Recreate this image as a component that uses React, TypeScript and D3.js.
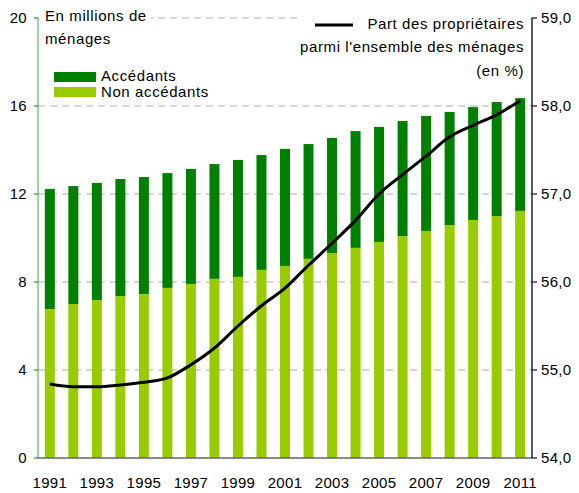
import React from "react";
import * as d3 from "d3";

const years = d3.range(1991, 2012).map(String);
const nonAccedants = [6.77, 7.0, 7.18, 7.36, 7.45, 7.73, 7.91, 8.14, 8.23, 8.55, 8.73, 9.05, 9.32, 9.55, 9.82, 10.09, 10.32, 10.59, 10.82, 11.0, 11.23];
const totalMenages = [12.23, 12.36, 12.5, 12.68, 12.77, 12.95, 13.14, 13.36, 13.55, 13.77, 14.05, 14.27, 14.55, 14.86, 15.05, 15.32, 15.55, 15.73, 15.95, 16.18, 16.36];
const partProprietaires = [54.84, 54.81, 54.81, 54.83, 54.86, 54.91, 55.06, 55.25, 55.5, 55.73, 55.93, 56.19, 56.44, 56.7, 57.0, 57.22, 57.43, 57.65, 57.78, 57.9, 58.06];
const leftTicks = [0, 4, 8, 12, 16, 20];
const rightTicks = [54, 55, 56, 57, 58, 59];
const xLabels = ["1991", "1993", "1995", "1997", "1999", "2001", "2003", "2005", "2007", "2009", "2011"];

const W = 579, H = 493;
const L = 38, R = 532, T = 18, B = 458;
const DARK = "#008000", LIGHT = "#99cc00";
const FONT = "'Liberation Sans', Arial, sans-serif";
const LS = 0.6;

export default function App() {
  const x = d3.scaleBand<string>().domain(years).range([L, R]).paddingInner(0.575).paddingOuter(0.29);
  const y = d3.scaleLinear().domain([0, 20]).range([B, T]);
  const y2 = d3.scaleLinear().domain([54, 59]).range([B, T]);
  const cx = (yr: string) => (x(yr) as number) + x.bandwidth() / 2;
  const line = d3.line<number>().x((_, i) => cx(years[i])).y((d) => y2(d)).curve(d3.curveMonotoneX);

  return (
    <svg width={W} height={H} style={{ position: "absolute", left: 0, top: 0, background: "#fff" }} fontFamily={FONT}>
      {leftTicks.filter((t) => t > 0).map((t) => (
        <line key={t} x1={L} x2={R} y1={y(t)} y2={y(t)} stroke="#c8c8c8" strokeWidth={1.3} strokeDasharray="7,5" />
      ))}
      {/* white backgrounds behind titles */}
      <rect x={L + 1} y={6} width={112} height={44} fill="#fff" />
      <rect x={302} y={6} width={228} height={76} fill="#fff" />
      {years.map((yr, i) => (
        <g key={yr}>
          <rect x={x(yr)} y={y(totalMenages[i])} width={x.bandwidth()} height={y(nonAccedants[i]) - y(totalMenages[i])} fill={DARK} />
          <rect x={x(yr)} y={y(nonAccedants[i])} width={x.bandwidth()} height={B - y(nonAccedants[i])} fill={LIGHT} />
        </g>
      ))}
      <path d={line(partProprietaires) || ""} fill="none" stroke="#000" strokeWidth={3} />
      {/* left axis */}
      <line x1={L} x2={L} y1={T} y2={B} stroke="#6abf6a" strokeWidth={1.3} />
      {leftTicks.map((t) => (
        <g key={t}>
          <line x1={L - 4} x2={L} y1={y(t)} y2={y(t)} stroke="#3a9a3a" strokeWidth={1.3} />
          <text x={27} y={y(t)} dy="0.36em" textAnchor="end" fontSize={15} fill="#000" letterSpacing={0.3}>{t}</text>
        </g>
      ))}
      {/* bottom axis */}
      <line x1={L} x2={R} y1={B} y2={B} stroke="#666" strokeWidth={1.3} />
      {xLabels.map((yr) => (
        <text key={yr} x={cx(yr)} y={488} textAnchor="middle" fontSize={15} fill="#000" letterSpacing={0.3}>{yr}</text>
      ))}
      {/* right axis */}
      <line x1={R} x2={R} y1={T} y2={B} stroke="#222" strokeWidth={1.5} />
      {rightTicks.map((t) => (
        <g key={t}>
          <line x1={R} x2={R + 5} y1={y2(t)} y2={y2(t)} stroke="#222" strokeWidth={1.3} />
          <text x={541} y={y2(t)} dy="0.36em" fontSize={15} fill="#000" letterSpacing={0.3}>{d3.format(".1f")(t).replace(".", ",")}</text>
        </g>
      ))}
      {/* left title */}
      <text x={45} y={21} fontSize={15} fill="#000" letterSpacing={LS}>En millions de</text>
      <text x={45} y={44} fontSize={15} fill="#000" letterSpacing={LS}>ménages</text>
      {/* legend */}
      <rect x={54} y={72} width={42} height={10} fill={DARK} />
      <rect x={54} y={87} width={42} height={10} fill={LIGHT} />
      <text x={101} y={81} fontSize={15} fill="#000" letterSpacing={LS}>Accédants</text>
      <text x={101} y={97} fontSize={15} fill="#000" letterSpacing={LS}>Non accédants</text>
      {/* right legend */}
      <line x1={315} x2={353} y1={25} y2={25} stroke="#000" strokeWidth={3} />
      <text x={524} y={29} textAnchor="end" fontSize={15} fill="#000" letterSpacing={LS}>Part des propriétaires</text>
      <text x={524} y={52} textAnchor="end" fontSize={15} fill="#000" letterSpacing={LS}>parmi l'ensemble des ménages</text>
      <text x={524} y={76} textAnchor="end" fontSize={15} fill="#000" letterSpacing={LS}>(en %)</text>
    </svg>
  );
}
